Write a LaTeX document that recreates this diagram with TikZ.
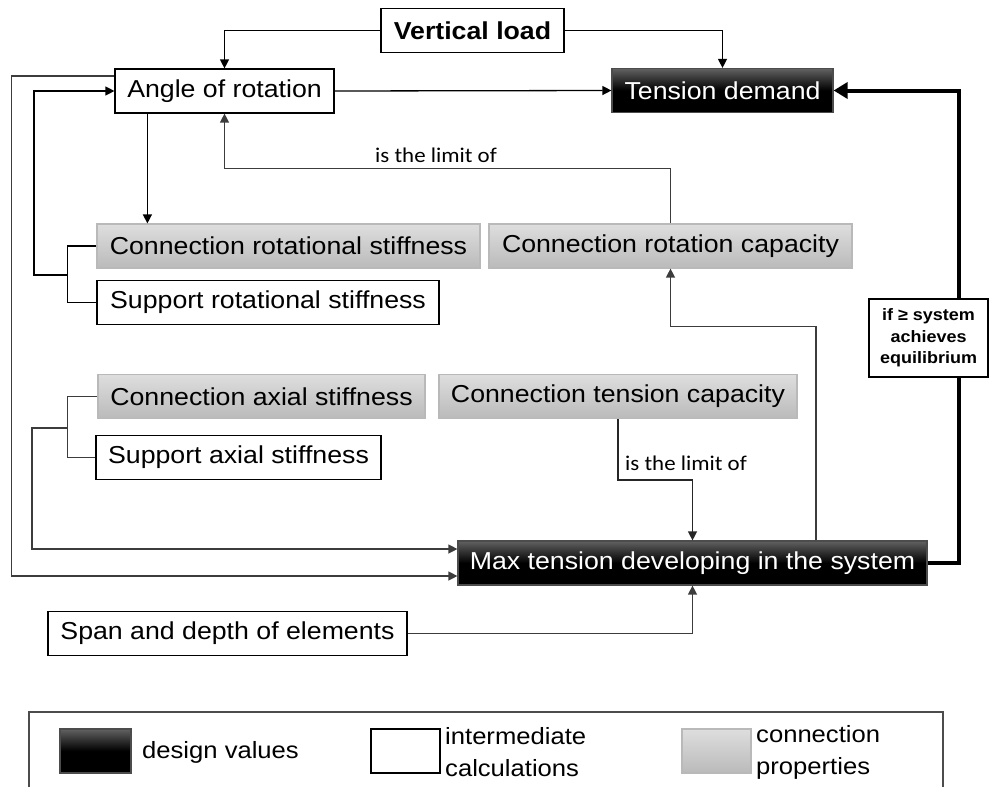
\documentclass[tikz,border=0pt]{standalone}
\usepackage{fontspec}
\setmainfont{Liberation Sans}[FakeStretch=1.09]
\newfontfamily\notefont{Carlito}[FakeStretch=1.09]
\usetikzlibrary{arrows.meta, positioning, calc}
\definecolor{propedge}{RGB}{185, 185, 185}
\definecolor{linegray}{RGB}{60, 60, 60}

\begin{document}
\begin{tikzpicture}[x=1pt, y=-1pt,
  mbox/.style={draw, line width=1.2pt, fill=white, minimum height=44pt, inner sep=0pt, font=\fontsize{24.5}{28}\selectfont},
  dbox/.style={mbox, draw=black!70, top color=black!62, bottom color=black, middle color=black, text=white},
  pbox/.style={mbox, draw=propedge, top color=black!13, bottom color=black!27, text=black},
  note/.style={font=\notefont\fontsize{21}{24}\selectfont, inner sep=1pt},
  arr/.style={line width=1.3pt, -{Triangle[length=9pt, width=9pt]}},
  garr/.style={arr, draw=linegray},
  gline/.style={line width=1.3pt, draw=linegray}
]
  \useasboundingbox (0,0) rectangle (990,787);

  % Top row
  \node[mbox, minimum width=183pt, font=\fontsize{24.5}{28}\selectfont\bfseries] (load) at (472.5, 30.5) {Vertical load};
  \node[mbox, minimum width=219pt] (angle) at (224.5, 91) {Angle of rotation};
  \node[dbox, minimum width=221pt] (demand) at (722.5, 90.5) {Tension demand};

  % Rotation properties
  \node[pbox, minimum width=383pt] (crs) at (288.5, 246) {Connection rotational stiffness};
  \node[mbox, minimum width=342pt] (srs) at (268, 302.5) {Support rotational stiffness};
  \node[pbox, minimum width=363pt] (crc) at (670.5, 246) {Connection rotation capacity};

  % Axial properties
  \node[pbox, minimum width=327pt] (cas) at (261.5, 396.5) {Connection axial stiffness};
  \node[pbox, minimum width=358pt] (ctc) at (618, 396.5) {Connection tension capacity};
  \node[mbox, minimum width=285pt] (sas) at (238.5, 457.5) {Support axial stiffness};

  % Bottom
  \node[dbox, minimum width=469pt] (maxt) at (692.5, 563) {Max tension developing in the system};
  \node[mbox, minimum width=359pt] (span) at (227.5, 633.5) {Span and depth of elements};

  % Connectors
  \draw[arr] (load.west) -| (angle.north);
  \draw[arr] (load.east) -| (demand.north);
  \draw[arr] (angle.east) -- (demand.west);
  \draw[arr] ([xshift=33pt]angle.south west) -- ([xshift=33pt]angle.south west |- crs.north);
  \draw[garr] (crc.north) -- ++(0,-55) -| (angle.south);
  \node[note] (lim1) at (436, 155) {is the limit of};

  \draw[gline] ([yshift=15pt]angle.west) -- ++(-103,0) coordinate (outer);
  \draw[garr] (outer) |- ([yshift=-13pt]maxt.west);

  \draw[line width=1.3pt] (crs.west) -- ++(-29,0) |- (srs.west);
  \coordinate (rotj) at (68, 275);
  \draw[arr] (rotj) -- ++(-34,0) |- (angle.west);

  \draw[gline] (cas.west) -- ++(-30,0) |- (sas.west);
  \coordinate (axj) at (68, 428);
  \draw[garr] (axj) -- ++(-36,0) |- ([yshift=14pt]maxt.west);

  \draw[arr, draw=black!85] (ctc.south) -- ++(0,61) -| (maxt.north);
  \node[note, anchor=west] (lim2) at (624, 463) {is the limit of};

  \draw[garr] ([xshift=123.5pt]maxt.north) -- ++(0,-214) -| (crc.south);
  \draw[garr] (span.east) -| (maxt.south);

  \draw[line width=4pt, -{Triangle[length=14pt, width=16pt]}] (maxt.east) -- ++(31,0) |- (demand.east);
  \node[draw, line width=1.2pt, fill=white, minimum width=119pt, minimum height=78pt, align=center, inner sep=0pt,
        font=\fontsize{16.5}{21.5}\selectfont\bfseries] (equil) at (928.5, 338) {if ≥ system\\achieves\\equilibrium};

  % Legend
  \draw[line width=1.2pt, draw=black!70] (29,787) -- (29,712) -- (943,712) -- (943,787);
  \node[dbox, minimum width=71pt, minimum height=44pt] (kdesign) at (95.5, 751) {};
  \node[anchor=west, inner sep=0pt, font=\fontsize{23.5}{26}\selectfont] (tdesign) at (142, 752) {design values};
  \node[mbox, minimum width=69pt, minimum height=44pt] (kcalc) at (405.5, 751) {};
  \node[anchor=west, inner sep=0pt, align=left, font=\fontsize{23.5}{32}\selectfont] (tcalc) at (445, 752) {intermediate\\calculations};
  \node[pbox, minimum width=69pt, minimum height=44pt] (kprop) at (716.5, 751) {};
  \node[anchor=west, inner sep=0pt, align=left, font=\fontsize{23.5}{32}\selectfont] (tprop) at (756, 752) {connection\\properties};
\end{tikzpicture}
\end{document}
